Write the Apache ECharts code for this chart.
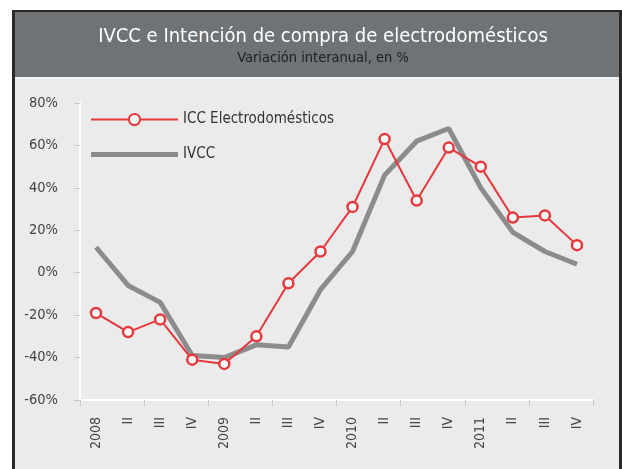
<!DOCTYPE html>
<html lang="es">
<head>
	<meta charset="utf-8" />
	<title>IVCC e Intención de compra</title>
	<script src="https://cdn.jsdelivr.net/npm/echarts@6/dist/echarts.min.js"></script>
	<style>
		html, body { margin: 0; padding: 0; background: #fff; }
		#chart { width: 622px; height: 469px; }
	</style>
</head>
<body>
	<div id="chart"></div>
	<script>
		// trimestres 2008-2011
		var quarters = ['2008', 'II', 'III', 'IV', '2009', 'II', 'III', 'IV',
			'2010', 'II', 'III', 'IV', '2011', 'II', 'III', 'IV'];
		// variación interanual, en %
		var iccElectro = [-19, -28, -22, -41, -43, -30, -5, 10, 31, 63, 34, 59, 50, 26, 27, 13];
		var ivcc = [12, -6, -14, -39, -40, -34, -35, -8, 10, 46, 62, 68, 40, 19, 10, 4];
		var yTicks = { min: -60, max: 80, step: 20 };

		var font = '"Liberation Sans Narrow", "DejaVu Sans Condensed", "Liberation Sans", sans-serif';
		var red = '#e8383d';
		var grey = '#8c8c8c';

		var chart = echarts.init(document.getElementById('chart'));

		var option = {
			animation: false,
			backgroundColor: '#ffffff',
			textStyle: { fontFamily: font },
			graphic: [
				// marco
				{ type: 'rect', z: -10, shape: { x: 12, y: 10, width: 610, height: 459 }, style: { fill: '#2a2a2a' } },
				{ type: 'rect', z: -9, shape: { x: 15, y: 12, width: 604, height: 65 }, style: { fill: '#6f7376' } },
				{ type: 'rect', z: -9, shape: { x: 15, y: 77, width: 604, height: 392 }, style: { fill: '#f3f3f3' } },
				{ type: 'rect', z: -8, shape: { x: 15, y: 79, width: 604, height: 390 }, style: { fill: '#ebebeb' } }
			],
			title: {
				text: 'IVCC e Intención de compra de electrodomésticos',
				subtext: 'Variación interanual, en %',
				left: 318,
				top: 22,
				textAlign: 'center',
				itemGap: 4,
				textStyle: { color: '#ffffff', fontSize: 20, fontWeight: 'normal', fontFamily: font },
				subtextStyle: { color: '#1e1e1e', fontSize: 14.5, fontFamily: font }
			},
			legend: {
				orient: 'vertical',
				left: 85,
				top: 107,
				itemWidth: 87,
				itemHeight: 14,
				itemGap: 20,
				textStyle: { fontSize: 15, color: '#333', fontFamily: font },
				data: [
					{ name: 'ICC Electrodomésticos' },
					{ name: 'IVCC', icon: 'path://M0,0H87V5H0Z', itemStyle: { color: grey } }
				]
			},
			grid: { left: 80, right: 29, top: 103, bottom: 69 },
			xAxis: [{
				type: 'category',
				data: quarters,
				position: 'bottom',
				axisLine: { show: false },
				axisTick: { show: false },
				axisLabel: { rotate: 90, margin: 17, fontSize: 14, color: '#444', fontFamily: font }
			}, {
				type: 'category',
				data: quarters,
				position: 'bottom',
				axisLine: { onZero: true, lineStyle: { color: '#ffffff', width: 2 } },
				axisTick: { show: true, length: 6, lineStyle: { color: '#c8c8c8' } },
				axisLabel: { show: false }
			}],
			yAxis: {
				type: 'value',
				min: yTicks.min,
				max: yTicks.max,
				interval: yTicks.step,
				axisLine: { show: true, lineStyle: { color: '#ffffff', width: 2 } },
				axisTick: { show: true, length: 6, lineStyle: { color: '#c8c8c8' } },
				splitLine: { show: false },
				axisLabel: { formatter: '{value}%', margin: 22, fontSize: 14.5, color: '#444', fontFamily: font }
			},
			series: [{
				name: 'IVCC',
				type: 'line',
				data: ivcc,
				symbol: 'none',
				z: 2,
				lineStyle: { color: grey, width: 5 },
				itemStyle: { color: grey }
			}, {
				name: 'ICC Electrodomésticos',
				type: 'line',
				data: iccElectro,
				symbol: 'circle',
				symbolSize: 10,
				z: 3,
				lineStyle: { color: red, width: 2 },
				itemStyle: { color: '#ffffff', borderColor: red, borderWidth: 2.5 }
			}]
		};
		chart.setOption(option);
	</script>
</body>
</html>
